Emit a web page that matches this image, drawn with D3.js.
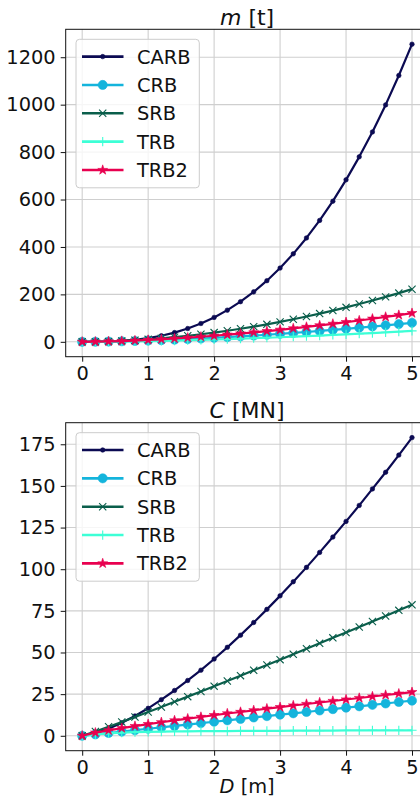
<!DOCTYPE html>
<html>
<head>
<meta charset="utf-8">
<script src="https://cdn.jsdelivr.net/npm/d3@7"></script>
<style>
  html, body { margin: 0; padding: 0; background: #fff; }
  svg { display: block; font-family: "DejaVu Sans", sans-serif; }
</style>
</head>
<body>
<svg id="chart" width="420" height="801"></svg>
<script>
// ── Data ──────────────────────────────────────────────────────────────────────
const diameters = [0, 0.2, 0.4, 0.6, 0.8, 1.0, 1.2, 1.4, 1.6, 1.8, 2.0, 2.2, 2.4,
                   2.6, 2.8, 3.0, 3.2, 3.4, 3.6, 3.8, 4.0, 4.2, 4.4, 4.6, 4.8, 5.0];

const bearingNames  = ["CARB", "CRB", "SRB", "TRB", "TRB2"];
const bearingColors = ["#0b0a52", "#14b4dc", "#0a5e4b", "#3dffd6", "#e8004f"];
const bearingMarkers = ["point", "circle", "x", "plus", "star"];

// m [t]
const massCARB = [0, 0.19, 1.27, 3.85, 8.4, 15.5, 25.5, 38.9, 56.0, 77.2, 102.9, 133.5, 169.2,
                  210.6, 257.8, 311, 371, 438, 512, 593, 683, 780, 885, 999, 1123, 1255];
const massCRB  = [0, 0.34, 1.09, 2.18, 3.55, 5.19, 7.07, 9.19, 11.5, 14.1, 16.9, 19.8, 23.0,
                  26.3, 29.8, 33.6, 37.5, 41.5, 45.8, 50.2, 54.8, 59.5, 64.4, 69.4, 74.6, 80];
const massSRB  = [0, 0.49, 1.83, 3.95, 6.8, 10.4, 14.8, 19.8, 25.5, 31.9, 38.9, 46.6, 55.0,
                  64.1, 73.7, 84.1, 95.1, 106.7, 119, 131.8, 145.3, 159.4, 174.1, 189.5, 205.4, 222];
const massTRB  = [0, 0.19, 0.63, 1.25, 2.04, 2.98, 4.07, 5.29, 6.64, 8.10, 9.70, 11.4, 13.2,
                  15.1, 17.2, 19.3, 21.6, 23.9, 26.3, 28.9, 31.5, 34.2, 37.0, 39.9, 42.9, 46];
const massTRB2 = [0, 0.51, 1.65, 3.29, 5.37, 7.85, 10.7, 13.9, 17.5, 21.3, 25.5, 30.0, 34.7,
                  39.8, 45.1, 50.7, 56.7, 62.8, 69.3, 75.9, 82.8, 90.0, 97.4, 105.0, 112.9, 121];

// C [MN]
const loadCARB = [0, 1.53, 4.26, 7.77, 11.9, 16.5, 21.7, 27.2, 33.2, 39.4, 46.1, 53.1, 60.4,
                  68.0, 75.9, 84.0, 92.5, 101.1, 110.1, 119.3, 128.7, 138.3, 148.2, 158.2, 168.5, 179];
const loadCRB  = [0, 0.84, 1.69, 2.53, 3.38, 4.22, 5.06, 5.91, 6.75, 7.60, 8.44, 9.28, 10.1,
                  11.0, 11.8, 12.7, 13.5, 14.3, 15.2, 16.0, 16.9, 17.7, 18.6, 19.4, 20.3, 21.1];
const loadSRB  = [0, 2.59, 5.40, 8.31, 11.3, 14.3, 17.3, 20.4, 23.5, 26.6, 29.8, 32.9, 36.1,
                  39.3, 42.5, 45.7, 49.0, 52.2, 55.5, 58.8, 62.0, 65.3, 68.6, 71.9, 75.3, 78.6];
const loadTRB  = [0, 0.9, 1.5, 1.9, 2.2, 2.4, 2.5, 2.6, 2.7, 2.75, 2.8, 2.85, 2.9,
                  2.95, 3.0, 3.0, 3.05, 3.1, 3.1, 3.15, 3.2, 3.2, 3.25, 3.25, 3.3, 3.3];
const loadTRB2 = [0, 1.87, 3.30, 4.61, 5.83, 7.01, 8.13, 9.22, 10.3, 11.3, 12.4, 13.4, 14.3,
                  15.3, 16.3, 17.2, 18.2, 19.1, 20.0, 20.9, 21.8, 22.7, 23.6, 24.5, 25.3, 26.2];

const xTicks     = [0, 1, 2, 3, 4, 5];
const massTicks  = [0, 200, 400, 600, 800, 1000, 1200];
const loadTicks  = [0, 25, 50, 75, 100, 125, 150, 175];

// ── Helpers ───────────────────────────────────────────────────────────────────
const svg = d3.select("#chart");
const TICK_FONT = 19.4;
const LEGEND_FONT = 19.4;

function markerPath(kind) {
  switch (kind) {
    case "point":  return d3.symbol(d3.symbolCircle, 16)();
    case "circle": return d3.symbol(d3.symbolCircle, 66)();
    case "star":   return d3.symbol(d3.symbolStar, 30)();
    case "x":      return "M-3.6,-3.6L3.6,3.6M-3.6,3.6L3.6,-3.6";
    case "plus":   return "M0,-4.6L0,4.6M-4.6,0L4.6,0";
  }
}
const strokeMarker = k => k === "x" || k === "plus";

function drawMarker(sel, kind, color) {
  sel.append("path")
    .attr("d", markerPath(kind))
    .attr("fill", strokeMarker(kind) ? "none" : color)
    .attr("stroke", color)
    .attr("stroke-width", strokeMarker(kind) ? 1.1 : 0.6);
}

function drawPanel(box, series, yTicks, title, xLabel) {
  const g = svg.append("g");

  const x = d3.scaleLinear().domain([-0.25, 5.25]).range([box.left, box.left + box.width]);
  const ymax = d3.max(series.flat());
  const pad = ymax * 0.05;
  const y = d3.scaleLinear().domain([-pad, ymax + pad]).range([box.top + box.height, box.top]);

  // grid
  g.append("g").selectAll("line").data(xTicks).join("line")
    .attr("x1", d => x(d)).attr("x2", d => x(d))
    .attr("y1", box.top).attr("y2", box.top + box.height)
    .attr("stroke", "#cfcfcf").attr("stroke-width", 1.1);
  g.append("g").selectAll("line").data(yTicks).join("line")
    .attr("x1", box.left).attr("x2", box.left + box.width)
    .attr("y1", d => y(d)).attr("y2", d => y(d))
    .attr("stroke", "#cfcfcf").attr("stroke-width", 1.1);

  // series
  const line = d3.line().x((d, i) => x(diameters[i])).y(d => y(d));
  series.forEach((vals, s) => {
    const sg = g.append("g");
    sg.append("path").datum(vals)
      .attr("d", line)
      .attr("fill", "none")
      .attr("stroke", bearingColors[s])
      .attr("stroke-width", 2.2)
      .attr("stroke-linejoin", "round");
    sg.selectAll("g").data(vals).join("g")
      .attr("transform", (d, i) => `translate(${x(diameters[i])},${y(d)})`)
      .each(function () { drawMarker(d3.select(this), bearingMarkers[s], bearingColors[s]); });
  });

  // spines (right one falls outside the picture)
  g.append("rect")
    .attr("x", box.left).attr("y", box.top)
    .attr("width", box.width).attr("height", box.height)
    .attr("fill", "none").attr("stroke", "#111").attr("stroke-width", 1);

  // axes
  const yAxis = g.append("g")
    .attr("transform", `translate(${box.left},0)`)
    .call(d3.axisLeft(y).tickValues(yTicks).tickSize(5).tickPadding(5).tickFormat(d3.format("d")));
  const xAxis = g.append("g")
    .attr("transform", `translate(0,${box.top + box.height})`)
    .call(d3.axisBottom(x).tickValues(xTicks).tickSize(5).tickPadding(5).tickFormat(d3.format("d")));
  [yAxis, xAxis].forEach(a => {
    a.select(".domain").remove();
    a.selectAll("line").attr("stroke", "#111");
    a.selectAll("text").attr("fill", "#111")
      .style("font-family", "DejaVu Sans").style("font-size", `${TICK_FONT}px`);
  });

  // title
  const t = g.append("text")
    .attr("x", box.left + box.width / 2).attr("y", box.top - 4.5)
    .attr("text-anchor", "middle")
    .style("font-size", "22px").attr("fill", "#111");
  t.append("tspan").style("font-style", "italic").text(title[0]);
  t.append("tspan").text(" " + title[1]);

  if (xLabel) {
    const xl = g.append("text")
      .attr("x", box.left + box.width / 2).attr("y", box.top + box.height + 42)
      .attr("text-anchor", "middle")
      .style("font-size", `${TICK_FONT}px`).attr("fill", "#111");
    xl.append("tspan").style("font-style", "italic").text(xLabel[0]);
    xl.append("tspan").text(" " + xLabel[1]);
  }

  // legend
  const lg = g.append("g").attr("transform", `translate(${box.left + 10.3},${box.top + 10})`);
  lg.append("rect")
    .attr("width", 123.3).attr("height", 148.5).attr("rx", 3.5)
    .attr("fill", "#fff").attr("fill-opacity", 0.8)
    .attr("stroke", "#cccccc").attr("stroke-width", 1);
  bearingNames.forEach((name, s) => {
    const row = lg.append("g").attr("transform", `translate(0,${17.3 + s * 28.35})`);
    row.append("line")
      .attr("x1", 6).attr("x2", 47.5)
      .attr("stroke", bearingColors[s]).attr("stroke-width", 2.6);
    drawMarker(row.append("g").attr("transform", "translate(26.7,0)"), bearingMarkers[s], bearingColors[s]);
    row.append("text")
      .attr("x", 61).attr("y", 7)
      .style("font-size", `${LEGEND_FONT}px`).attr("fill", "#111")
      .text(name);
  });
}

drawPanel({ left: 65.7, top: 29.3, width: 362.8, height: 327.4 },
  [massCARB, massCRB, massSRB, massTRB, massTRB2], massTicks, ["m", "[t]"], null);

drawPanel({ left: 65.7, top: 422.7, width: 362.8, height: 328 },
  [loadCARB, loadCRB, loadSRB, loadTRB, loadTRB2], loadTicks, ["C", "[MN]"], ["D", "[m]"]);
</script>
</body>
</html>
